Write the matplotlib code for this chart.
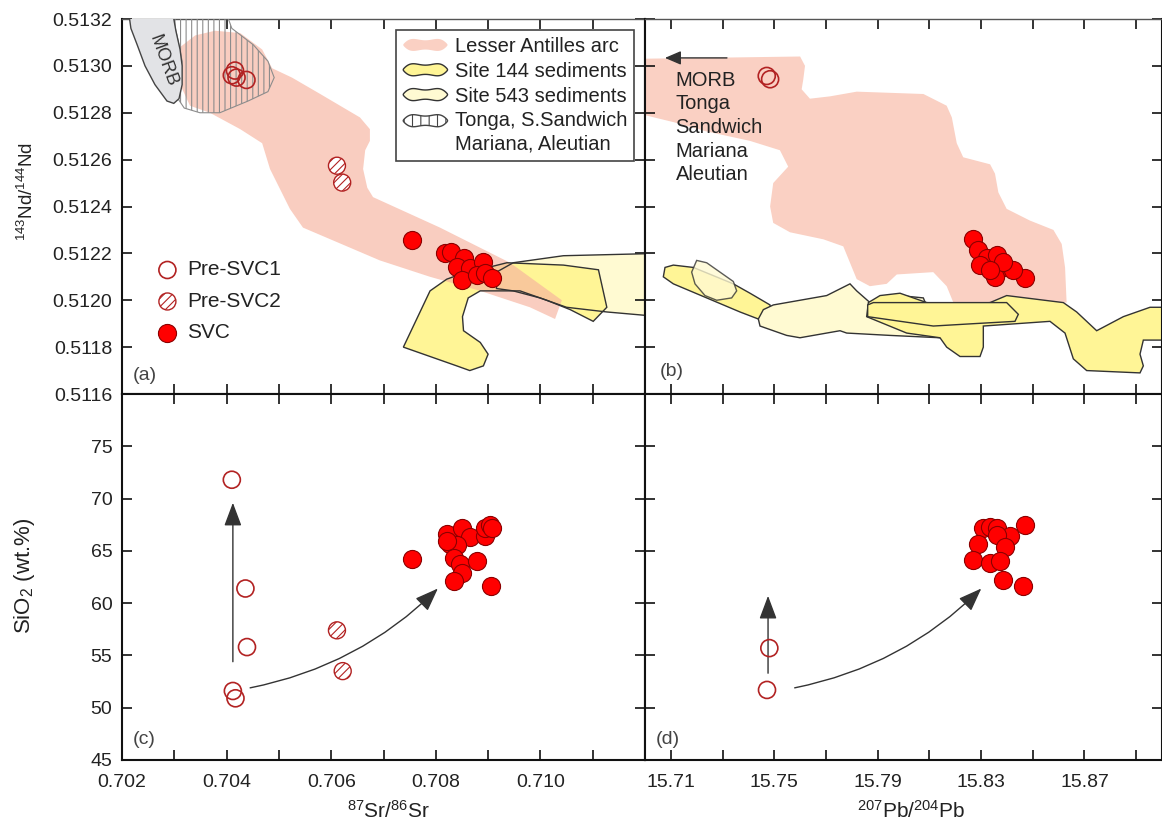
import numpy as np
import matplotlib
matplotlib.use('Agg')
import matplotlib.pyplot as plt
from matplotlib.patches import Polygon, FancyArrowPatch, Patch
from matplotlib.legend_handler import HandlerPatch
from matplotlib.ticker import FixedLocator, FormatStrFormatter

plt.rcParams['font.family'] = ['Liberation Sans', 'DejaVu Sans']
plt.rcParams['mathtext.fontset'] = 'custom'
plt.rcParams['mathtext.rm'] = 'Liberation Sans'
plt.rcParams['mathtext.it'] = 'Liberation Sans:italic'
plt.rcParams['mathtext.bf'] = 'Liberation Sans:bold'
plt.rcParams['hatch.linewidth'] = 0.8

# ---------------- data ----------------
# axis ticks
sr_ticks = [0.702, 0.704, 0.706, 0.708, 0.710]
sr_minor = [0.703, 0.705, 0.707, 0.709, 0.711]
pb_ticks = [15.71, 15.75, 15.79, 15.83, 15.87]
pb_minor = [15.73, 15.77, 15.81, 15.85, 15.89]
nd_ticks = [0.5116, 0.5118, 0.5120, 0.5122, 0.5124, 0.5126, 0.5128, 0.5130, 0.5132]
sio2_ticks = [45, 50, 55, 60, 65, 70, 75]

# (a) 87Sr/86Sr vs 143Nd/144Nd
a_pre1_sr = [0.70410, 0.70416, 0.70419, 0.70438]
a_pre1_nd = [0.51296, 0.51298, 0.51295, 0.51294]
a_pre2_sr = [0.70611, 0.70621]
a_pre2_nd = [0.512574, 0.512502]
a_svc_sr = [0.70754, 0.70818, 0.70830, 0.70853, 0.70840, 0.70865, 0.70891, 0.70850, 0.70878, 0.70894, 0.70907]
a_svc_nd = [0.512257, 0.512200, 0.512207, 0.512179, 0.512143, 0.512136, 0.512164, 0.512086, 0.512108, 0.512115, 0.512094]

# (b) 207Pb/204Pb vs 143Nd/144Nd
b_pre1_pb = [15.7471, 15.7484]
b_pre1_nd = [0.512957, 0.512943]
b_svc_pb = [15.8270, 15.8289, 15.8322, 15.8361, 15.8296, 15.8393, 15.8354, 15.8470, 15.8425, 15.8386, 15.8335]
b_svc_nd = [0.512260, 0.512214, 0.512179, 0.512193, 0.512150, 0.512143, 0.512100, 0.512094, 0.512129, 0.512164, 0.512129]

# (c) 87Sr/86Sr vs SiO2
c_pre1_sr = [0.70410, 0.70436, 0.70439, 0.70412, 0.70417]
c_pre1_si = [71.8, 61.4, 55.8, 51.6, 50.9]
c_pre2_sr = [0.70611, 0.70622]
c_pre2_si = [57.4, 53.5]
c_svc_sr = [0.70754, 0.70821, 0.70850, 0.70865, 0.70894, 0.70894, 0.70904, 0.70907, 0.70827,
            0.70840, 0.70834, 0.70846, 0.70850, 0.70834, 0.70878, 0.70905, 0.70821]
c_svc_si = [64.2, 66.6, 67.2, 66.3, 66.4, 67.2, 67.5, 67.2, 65.7,
            65.6, 64.3, 63.7, 62.9, 62.1, 64.0, 61.6, 65.9]

# (d) 207Pb/204Pb vs SiO2
d_pre1_pb = [15.7481, 15.7472]
d_pre1_si = [55.7, 51.7]
d_svc_pb = [15.8470, 15.8309, 15.8335, 15.8361, 15.8412, 15.8361, 15.8289, 15.8393, 15.8270,
            15.8335, 15.8373, 15.8383, 15.8463]
d_svc_si = [67.5, 67.15, 67.3, 67.15, 66.4, 66.5, 65.7, 65.4, 64.1, 63.8, 64.0, 62.2, 61.6]

# fields in panel (a)
pink_a_x = [0.70311, 0.70340, 0.70378, 0.70426, 0.70468, 0.70487, 0.70525, 0.70579, 0.70655, 0.70674,
            0.70674, 0.70665, 0.70661, 0.70669, 0.70680, 0.70808, 0.70942, 0.71041, 0.71028, 0.70980,
            0.70885, 0.70789, 0.70693, 0.70546, 0.70521, 0.70483, 0.70468, 0.70426, 0.70368, 0.70330, 0.70307]
pink_a_y = [0.51308, 0.51313, 0.51315, 0.51314, 0.51307, 0.51299, 0.51295, 0.51288, 0.51278, 0.51273,
            0.51268, 0.51264, 0.51256, 0.51248, 0.51244, 0.51231, 0.51216, 0.51200, 0.51192, 0.51197,
            0.51204, 0.51210, 0.51217, 0.51231, 0.51239, 0.51256, 0.51267, 0.51273, 0.51280, 0.51283, 0.51294]
morb_x = [0.70212, 0.70296, 0.70303, 0.70311, 0.70315, 0.70315, 0.70309, 0.70299, 0.70286, 0.70263,
          0.70244, 0.70229, 0.70217]
morb_y = [0.51324, 0.51324, 0.51315, 0.51307, 0.51300, 0.51292, 0.51286, 0.51284, 0.51285, 0.51292,
          0.51300, 0.51309, 0.51316]
arc_x = [0.70296, 0.70397, 0.70410, 0.70451, 0.70479, 0.70491, 0.70479, 0.70441, 0.70387, 0.70349,
         0.70319, 0.70307, 0.70313, 0.70315, 0.70307, 0.70299]
arc_y = [0.51324, 0.51324, 0.51316, 0.51309, 0.51302, 0.51295, 0.51289, 0.51285, 0.51280, 0.51280,
         0.51282, 0.51286, 0.51294, 0.51302, 0.51311, 0.51319]
s144a_x = [0.70738, 0.70789, 0.70821, 0.70846, 0.70936, 0.71044, 0.71111, 0.71127, 0.71101, 0.71057,
           0.71012, 0.70961, 0.70885, 0.70862, 0.70851, 0.70853, 0.70885, 0.70900, 0.70891, 0.70865, 0.70840]
s144a_y = [0.51180, 0.51204, 0.51209, 0.51211, 0.51216, 0.51215, 0.51213, 0.51197, 0.51191, 0.51196,
           0.51200, 0.51204, 0.51204, 0.51201, 0.51193, 0.51187, 0.51182, 0.51177, 0.51172, 0.51170, 0.51172]
s543a_x = [0.70916, 0.70948, 0.71044, 0.71229, 0.71229, 0.71127, 0.71050, 0.70999, 0.70948, 0.70916]
s543a_y = [0.51212, 0.51216, 0.51219, 0.51220, 0.51193, 0.51195, 0.51197, 0.51201, 0.51204, 0.51205]

# fields in panel (b)
pink_b_x = [15.6961, 15.7600, 15.7619, 15.7612, 15.7606, 15.7638, 15.7716, 15.7819, 15.8077, 15.8167,
            15.8187, 15.8206, 15.8231, 15.8335, 15.8354, 15.8367, 15.8399, 15.8489, 15.8580, 15.8612,
            15.8625, 15.8631, 15.8193, 15.8167, 15.8115, 15.7974, 15.7935, 15.7870, 15.7819, 15.7793,
            15.7767, 15.7690, 15.7561, 15.7496, 15.7484, 15.7496, 15.7554, 15.7522, 15.7406, 15.7239,
            15.7110, 15.6961]
pink_b_y = [0.51303, 0.51304, 0.51300, 0.51294, 0.51290, 0.51286, 0.51287, 0.51289, 0.51288, 0.51283,
            0.51278, 0.51267, 0.51261, 0.51258, 0.51254, 0.51246, 0.51239, 0.51234, 0.51230, 0.51224,
            0.51214, 0.51199, 0.51199, 0.51206, 0.51212, 0.51211, 0.51207, 0.51206, 0.51209, 0.51216,
            0.51223, 0.51226, 0.51229, 0.51233, 0.51240, 0.51250, 0.51257, 0.51264, 0.51268, 0.51272,
            0.51276, 0.51280]
s144b1_x = [15.70709, 15.70774, 15.71096, 15.71870, 15.73417, 15.74062, 15.74836, 15.74900, 15.74642,
            15.74384, 15.73675, 15.72386, 15.71096]
s144b1_y = [0.51210, 0.51214, 0.51215, 0.51214, 0.51207, 0.51203, 0.51198, 0.51194, 0.51191,
            0.51192, 0.51195, 0.51201, 0.51207]
s543b1_x = [15.71805, 15.71999, 15.72386, 15.73417, 15.73546, 15.73353, 15.72772, 15.72321, 15.71934]
s543b1_y = [0.51212, 0.51217, 0.51216, 0.51208, 0.51204, 0.51201, 0.51200, 0.51202, 0.51207]
s543b2_x = [15.74384, 15.74578, 15.74965, 15.75996, 15.77028, 15.77930, 15.78188, 15.78704, 15.79865,
            15.80767, 15.81412, 15.79478, 15.77802, 15.77544, 15.75996, 15.75480, 15.74449]
s543b2_y = [0.51192, 0.51196, 0.51198, 0.51200, 0.51202, 0.51207, 0.51204, 0.51199, 0.51202,
            0.51201, 0.51184, 0.51185, 0.51186, 0.51187, 0.51184, 0.51185, 0.51189]
s144b2_x = [15.78575, 15.78640, 15.79091, 15.79865, 15.80896, 15.82057, 15.83346, 15.83991, 15.86183,
            15.86699, 15.87473, 15.88504, 15.89536, 15.90439, 15.90439, 15.89278, 15.89149, 15.89278,
            15.89149, 15.87086, 15.86570, 15.86248, 15.85667, 15.84378, 15.83088, 15.83088, 15.82960,
            15.82186, 15.81670, 15.81412, 15.80123]
s144b2_y = [0.51193, 0.51199, 0.51202, 0.51203, 0.51199, 0.51198, 0.51199, 0.51202, 0.51199,
            0.51195, 0.51187, 0.51193, 0.51197, 0.51197, 0.51183, 0.51183, 0.51177, 0.51172,
            0.51169, 0.51170, 0.51175, 0.51186, 0.51191, 0.51190, 0.51189, 0.51180, 0.51176,
            0.51176, 0.51180, 0.51184, 0.51186]
s144b3_x = [15.78614, 15.78833, 15.83991, 15.84442, 15.84313, 15.82702, 15.81154, 15.78614]
s144b3_y = [0.51198, 0.51199, 0.51199, 0.51194, 0.51191, 0.51190, 0.51189, 0.51193]

# annotation arrows (start, end) in data units
b_arrow = [(15.7317, 0.513034), (15.7077, 0.513034)]
c_arrow_up = [(0.70412, 54.4), (0.70412, 69.6)]
c_arrow_curve = [(0.70445, 51.9), (0.70804, 61.4)]
d_arrow_up = [(15.7476, 53.3), (15.7476, 60.7)]
d_arrow_curve = [(15.7579, 51.9), (15.8301, 61.4)]

# ---------------- style ----------------
PINK = '#fad0c3'
PINK_T = '#f7b29e'
YEL = '#fff596'
PALE = '#fffad2'
EDGE = '#333333'
RED = '#ff0000'
DRED = '#8b0000'
OPEN = '#b22222'
TXT = '#222222'
FS = 14

fig = plt.figure(figsize=(11.62, 8.31), dpi=100)
W, H = 1162.0, 831.0
axA = fig.add_axes([122 / W, 1 - 394 / H, 523 / W, 375 / H])
axB = fig.add_axes([645 / W, 1 - 394 / H, 517 / W, 375 / H])
axC = fig.add_axes([122 / W, 1 - 760 / H, 523 / W, 366 / H])
axD = fig.add_axes([645 / W, 1 - 760 / H, 517 / W, 366 / H])


def style(ax, xmaj, xmin, ymaj, xlab, ylab):
    ax.xaxis.set_major_locator(FixedLocator(xmaj))
    ax.xaxis.set_minor_locator(FixedLocator(xmin))
    ax.yaxis.set_major_locator(FixedLocator(ymaj))
    ax.tick_params(which='both', direction='in', top=True, right=True, length=7, width=1.2,
                   color='#111111', labelsize=FS, labelcolor=TXT)
    ax.tick_params(axis='x', pad=10, labelbottom=xlab)
    ax.tick_params(axis='y', pad=7, labelleft=ylab)
    for s in ax.spines.values():
        s.set_linewidth(1.5)
        s.set_color('#111111')


style(axA, sr_ticks, sr_minor, nd_ticks, False, True)
style(axB, pb_ticks, pb_minor, nd_ticks, False, False)
style(axC, sr_ticks, sr_minor, sio2_ticks, True, True)
style(axD, pb_ticks, pb_minor, sio2_ticks, True, False)
for ax in (axA, axB):
    ax.set_ylim(0.5116, 0.5132)
    ax.spines['top'].set_linewidth(1.0)
    ax.spines['top'].set_color('#555555')
axA.yaxis.set_major_formatter(FormatStrFormatter('%.4f'))
axC.xaxis.set_major_formatter(FormatStrFormatter('%.3f'))
axD.xaxis.set_major_formatter(FormatStrFormatter('%.2f'))
for ax in (axC, axD):
    ax.set_ylim(45, 80)
for ax in (axA, axC):
    ax.set_xlim(0.702, 0.712)
for ax in (axB, axD):
    ax.set_xlim(15.70, 15.90)


def poly(ax, xs, ys, **kw):
    p = Polygon(np.column_stack([xs, ys]), closed=True, **kw)
    ax.add_patch(p)
    return p


def points(ax, x1, y1, x2, y2, xs, ys):
    if x1 is not None:
        ax.scatter(x1, y1, s=150, facecolors='none', edgecolors=OPEN, linewidths=1.2, zorder=10)
    if x2 is not None:
        ax.scatter(x2, y2, s=150, facecolors='white', edgecolors=OPEN, linewidths=1.0,
                   hatch='////', zorder=10)
    ax.scatter(xs, ys, s=170, facecolors=RED, edgecolors=DRED, linewidths=0.8, zorder=11)


# ---- panel (a)
poly(axA, s543a_x, s543a_y, fc=PALE, ec='none', zorder=1)
poly(axA, s144a_x, s144a_y, fc=YEL, ec='none', zorder=1.5)
poly(axA, pink_a_x, pink_a_y, fc=PINK_T, ec='none', alpha=0.65, zorder=2)
poly(axA, s543a_x, s543a_y, fc='none', ec=EDGE, lw=1.0, zorder=3)
poly(axA, s144a_x, s144a_y, fc='none', ec=EDGE, lw=1.0, zorder=3)
poly(axA, arc_x, arc_y, fc='none', ec='#8c8c8c', lw=0.8, hatch='|||', zorder=4)
poly(axA, morb_x, morb_y, fc='#e2e3e6', ec='#444444', lw=1.0, zorder=5)
axA.text(0.70278, 0.51302, 'MORB', rotation=-70, ha='center', va='center', fontsize=13,
         color='#333333', zorder=6)
points(axA, a_pre1_sr, a_pre1_nd, a_pre2_sr, a_pre2_nd, a_svc_sr, a_svc_nd)

# legends in (a)
h1 = axA.scatter([], [], s=150, facecolors='none', edgecolors=OPEN, linewidths=1.2)
h2 = axA.scatter([], [], s=150, facecolors='white', edgecolors=OPEN, linewidths=1.0, hatch='////')
h3 = axA.scatter([], [], s=170, facecolors=RED, edgecolors=DRED, linewidths=0.8)
leg1 = axA.legend([h1, h2, h3], ['Pre-SVC1', 'Pre-SVC2', 'SVC'], loc='upper left',
                  bbox_to_anchor=(0.039, 0.395), frameon=False, fontsize=15, scatterpoints=1,
                  handlelength=1.0, handletextpad=0.45, labelspacing=0.6, borderpad=0.2)
for t in leg1.get_texts():
    t.set_color(TXT)
axA.add_artist(leg1)


def blob(legend, orig_handle, xdescent, ydescent, width, height, fontsize):
    t = np.linspace(0, 2 * np.pi, 90)
    f = 0.8 - 0.2 * np.cos(4 * t)
    x = -xdescent + width * (0.5 + 0.5 * np.cos(t))
    y = -ydescent + height * (0.5 + 0.5 * np.sin(t) * f)
    if orig_handle.get_gid() == 'two':
        y = y + 0.62 * fontsize
    return Polygon(np.column_stack([x, y]), closed=True)


p_la = Patch(fc=PINK, ec='none')
p_144 = Patch(fc=YEL, ec=EDGE, lw=1.0)
p_543 = Patch(fc=PALE, ec=EDGE, lw=1.0)
p_arc = Patch(fc='white', ec='#444444', lw=1.0, hatch='||')
p_arc.set_gid('two')
hm = {p: HandlerPatch(patch_func=blob) for p in (p_la, p_144, p_543, p_arc)}
leg2 = axA.legend([p_la, p_144, p_543, p_arc],
                  ['Lesser Antilles arc', 'Site 144 sediments', 'Site 543 sediments',
                   'Tonga, S.Sandwich\nMariana, Aleutian'],
                  handler_map=hm, loc='upper right', bbox_to_anchor=(0.979, 0.971),
                  fontsize=14.5, fancybox=False, framealpha=1, edgecolor='#444444',
                  handlelength=2.2, handleheight=0.8, handletextpad=0.35, labelspacing=0.29,
                  borderpad=0.35, borderaxespad=0)
leg2.get_frame().set_linewidth(1.2)
leg2.set_zorder(20)
for t in leg2.get_texts():
    t.set_color(TXT)
    t.set_linespacing(1.3)

# ---- panel (b)
poly(axB, pink_b_x, pink_b_y, fc=PINK, ec='none', zorder=1)
poly(axB, s144b1_x, s144b1_y, fc=YEL, ec=EDGE, lw=1.0, zorder=2)
poly(axB, s543b1_x, s543b1_y, fc=PALE, ec=EDGE, lw=1.0, alpha=0.8, zorder=2.1)
poly(axB, s543b2_x, s543b2_y, fc=PALE, ec=EDGE, lw=1.0, zorder=2.2)
poly(axB, s144b2_x, s144b2_y, fc=YEL, ec=EDGE, lw=1.0, zorder=2.3)
poly(axB, s144b3_x, s144b3_y, fc=YEL, ec=EDGE, lw=1.0, zorder=2.4)
axB.add_patch(FancyArrowPatch(b_arrow[0], b_arrow[1], arrowstyle='-|>,head_length=0.7,head_width=0.3',
                              mutation_scale=14, lw=1.0, color='#333333', shrinkA=0, shrinkB=0, zorder=6))
axB.text(15.7118, 0.51298, 'MORB\nTonga\nSandwich\nMariana\nAleutian', ha='left', va='top',
         fontsize=14.5, color=TXT, linespacing=1.31, zorder=6)
points(axB, b_pre1_pb, b_pre1_nd, None, None, b_svc_pb, b_svc_nd)

# ---- panel (c)
points(axC, c_pre1_sr, c_pre1_si, c_pre2_sr, c_pre2_si, c_svc_sr, c_svc_si)
for (p0, p1), rad in ((c_arrow_up, 0.0), (c_arrow_curve, 0.15)):
    axC.add_patch(FancyArrowPatch(p0, p1, arrowstyle='-|>,head_length=0.8,head_width=0.3',
                                  connectionstyle='arc3,rad=%g' % rad, mutation_scale=18,
                                  lw=1.0, color='#333333', shrinkA=0, shrinkB=0, zorder=6))

# ---- panel (d)
points(axD, d_pre1_pb, d_pre1_si, None, None, d_svc_pb, d_svc_si)
for (p0, p1), rad in ((d_arrow_up, 0.0), (d_arrow_curve, 0.15)):
    axD.add_patch(FancyArrowPatch(p0, p1, arrowstyle='-|>,head_length=0.8,head_width=0.3',
                                  connectionstyle='arc3,rad=%g' % rad, mutation_scale=18,
                                  lw=1.0, color='#333333', shrinkA=0, shrinkB=0, zorder=6))

# panel letters
for ax, lab, xy in ((axA, '(a)', (0.021, 0.048)), (axB, '(b)', (0.029, 0.061)),
                    (axC, '(c)', (0.021, 0.057)), (axD, '(d)', (0.021, 0.057))):
    ax.text(xy[0], xy[1], lab, transform=ax.transAxes, ha='left', va='center',
            fontsize=FS, color='#444444', zorder=20)

# axis titles
axA.text(-0.182, 0.539, r'$^{143}$Nd/$^{144}$Nd', transform=axA.transAxes, rotation=90,
         ha='center', va='center', fontsize=13.5, color=TXT)
axC.text(-0.186, 0.503, r'SiO$_2$ (wt.%)', transform=axC.transAxes, rotation=90,
         ha='center', va='center', fontsize=16, color=TXT)
axC.text(0.509, -0.14, r'$^{87}$Sr/$^{86}$Sr', transform=axC.transAxes,
         ha='center', va='center', fontsize=15, color=TXT)
axD.text(0.514, -0.14, r'$^{207}$Pb/$^{204}$Pb', transform=axD.transAxes,
         ha='center', va='center', fontsize=15, color=TXT)

fig.savefig('out.png', dpi=100)
